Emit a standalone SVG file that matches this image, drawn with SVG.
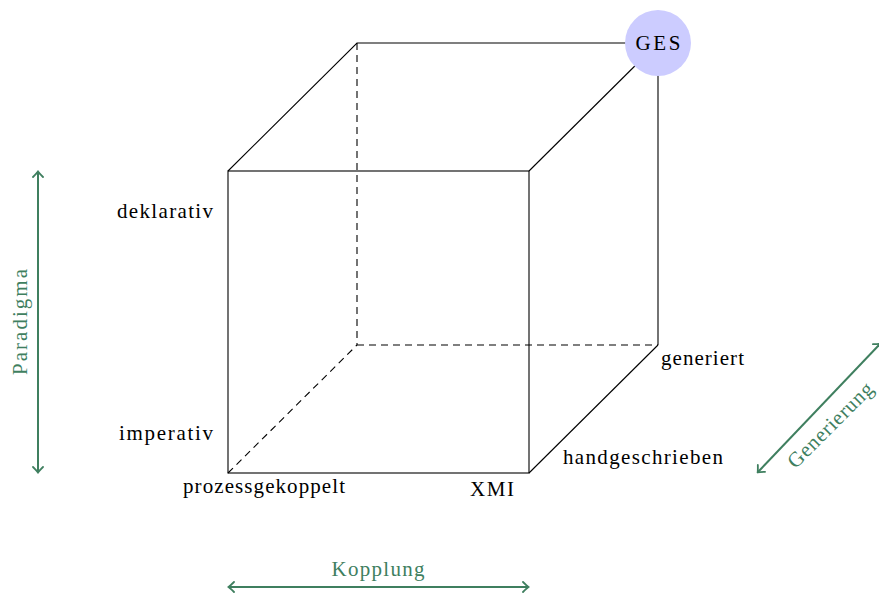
<svg xmlns="http://www.w3.org/2000/svg" width="879" height="597" viewBox="0 0 879 597">
  <style>
    .edge { stroke: #000; stroke-width: 1.1; fill: none; }
    .hidden { stroke: #000; stroke-width: 1.1; fill: none; stroke-dasharray: 7 5; }
    .axis { stroke: #3f7f5f; stroke-width: 2; fill: none; marker-start: url(#tip); marker-end: url(#tip); }
    .lbl { font-family: "Liberation Serif", "DejaVu Serif", serif; font-size: 21px; fill: #000; }
    .axlbl { font-family: "Liberation Serif", "DejaVu Serif", serif; font-size: 21px; fill: #3f7f5f; }
  </style>
  <defs>
    <marker id="tip" viewBox="-6 -6 8 12" markerWidth="8" markerHeight="12" refX="0" refY="0" orient="auto-start-reverse" markerUnits="userSpaceOnUse">
      <path d="M-5,-5 Q-1,-1 0.5,0 Q-1,1 -5,5" stroke="#3f7f5f" stroke-width="1.8" fill="none" stroke-linecap="round"/>
    </marker>
  </defs>

  <!-- cube edges -->
  <g id="connectors">
    <path class="hidden" d="M357,43 L357,345"/>
    <path class="hidden" d="M357,345 L658,345"/>
    <path class="hidden" d="M228,473 L357,345"/>
    <rect class="edge" x="228" y="171" width="301" height="302"/>
    <path class="edge" d="M228,171 L357,43 L658,43"/>
    <path class="edge" d="M529,171 L658,43"/>
    <path class="edge" d="M658,43 L658,345"/>
    <path class="edge" d="M529,473 L658,345"/>
  </g>

  <!-- axis arrows -->
  <g id="axes">
    <line class="axis" x1="38" y1="172" x2="38" y2="472"/>
    <line class="axis" x1="229" y1="587" x2="528" y2="587"/>
    <line class="axis" x1="758" y1="472" x2="880" y2="344"/>
  </g>

  <g id="ges">
    <circle cx="658" cy="43" r="33" fill="#ccccff"/>
    <text class="lbl" x="658" y="50" text-anchor="middle" textLength="45">GES</text>
  </g>

  <g id="labels">
    <text class="lbl" x="117" y="218" textLength="96">deklarativ</text>
    <text class="lbl" x="119" y="440" textLength="94">imperativ</text>
    <text class="lbl" x="183" y="493" textLength="162">prozessgekoppelt</text>
    <text class="lbl" x="470" y="496" textLength="44">XMI</text>
    <text class="lbl" x="563" y="464" textLength="160">handgeschrieben</text>
    <text class="lbl" x="661" y="365" textLength="83">generiert</text>
  </g>

  <g id="axis-labels">
    <text class="axlbl" transform="translate(27,322) rotate(-90)" text-anchor="middle" textLength="106">Paradigma</text>
    <text class="axlbl" x="378" y="576" text-anchor="middle" textLength="93">Kopplung</text>
    <text class="axlbl" transform="translate(835,430) rotate(-45)" text-anchor="middle" textLength="112">Generierung</text>
  </g>
</svg>
